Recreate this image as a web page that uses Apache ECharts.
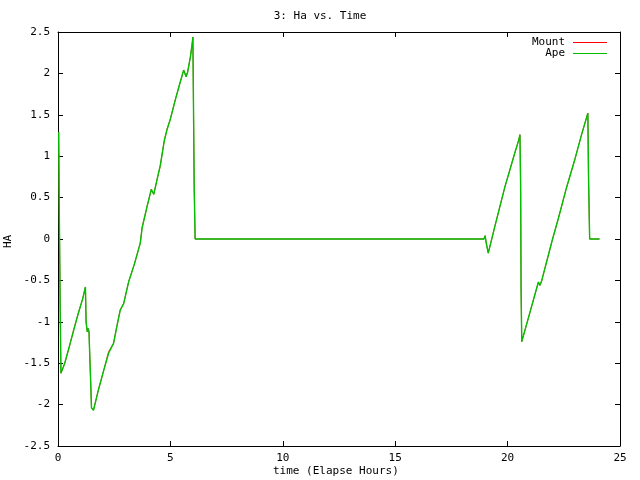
<!DOCTYPE html>
<html>
<head>
<meta charset="utf-8">
<script src="https://cdn.jsdelivr.net/npm/echarts@6/dist/echarts.min.js"></script>
<style>html,body{margin:0;padding:0;background:#fff}#c{width:640px;height:480px}</style>
</head>
<body>
<div id="c"></div>
<script>
var titleText = "3: Ha vs. Time";
var xLabel = "time (Elapse Hours)";
var yLabel = "HA";
var seriesNames = ["Mount", "Ape"];
var seriesColors = ["#ff0000", "#00c000"];
var xTicks = [0, 5, 10, 15, 20, 25];
var yTicks = [-2.5, -2, -1.5, -1, -0.5, 0, 0.5, 1, 1.5, 2, 2.5];

var time = [0.03,0.05,0.10,0.13,0.18,0.30,0.50,0.70,0.90,1.10,1.22,1.25,1.30,1.34,1.38,1.40,1.46,1.49,1.58,1.80,2.00,2.25,2.47,2.60,2.77,2.92,3.14,3.40,3.66,3.74,3.96,4.15,4.26,4.40,4.55,4.63,4.73,4.85,5.00,5.22,5.40,5.59,5.70,5.77,5.89,5.97,6.00,6.02,6.06,6.10,18.95,19.00,19.05,19.14,19.43,19.88,20.30,20.50,20.55,20.58,20.60,20.63,21.00,21.37,21.44,21.52,22.00,22.26,22.60,23.00,23.30,23.57,23.60,23.65,24.09];

var ape = [1.29,0.56,-0.89,-1.62,-1.62,-1.50,-1.30,-1.10,-0.90,-0.72,-0.58,-1.00,-1.12,-1.08,-1.12,-1.30,-1.78,-2.04,-2.07,-1.82,-1.62,-1.38,-1.26,-1.08,-0.86,-0.78,-0.52,-0.30,-0.05,0.13,0.39,0.60,0.54,0.71,0.89,1.02,1.19,1.32,1.45,1.68,1.86,2.04,1.96,2.02,2.20,2.36,2.44,1.82,0.60,0.00,0.00,0.04,-0.05,-0.17,0.15,0.63,1.02,1.20,1.26,0.63,-0.62,-1.24,-0.88,-0.52,-0.56,-0.50,0.00,0.25,0.60,0.97,1.27,1.52,0.75,0.00,0.00];

var mount = [1.29,0.56,-0.89,-1.62,-1.62,-1.50,-1.31,-1.09,-0.90,-0.72,-0.58,-1.00,-1.12,-1.08,-1.12,-1.30,-1.78,-2.04,-2.06,-1.82,-1.62,-1.36,-1.26,-1.08,-0.85,-0.78,-0.52,-0.30,-0.05,0.14,0.39,0.60,0.54,0.71,0.88,1.03,1.19,1.33,1.45,1.69,1.86,2.04,1.96,2.02,2.20,2.36,2.44,1.82,0.60,0.00,0.00,0.04,-0.05,-0.17,0.15,0.63,1.02,1.20,1.26,0.63,-0.62,-1.24,-0.88,-0.52,-0.56,-0.50,0.00,0.25,0.60,0.97,1.27,1.52,0.75,0.00,0.00];

function pairs(xs, ys){ return xs.map(function(x,i){ return [x, ys[i]]; }); }

var FONT = "DejaVu Sans Mono";
var chart = echarts.init(document.getElementById('c'), null, {renderer:'canvas'});

var xCommon = {
  type:'value', min:xTicks[0], max:xTicks[xTicks.length-1], interval:5,
  axisLine:{show:true, onZero:false, lineStyle:{color:'#000', width:1}},
  axisTick:{show:true, inside:true, length:5, lineStyle:{color:'#000'}},
  splitLine:{show:false}
};
var yCommon = {
  type:'value', min:yTicks[0], max:yTicks[yTicks.length-1], interval:0.5,
  axisLine:{show:true, onZero:false, lineStyle:{color:'#000', width:1}},
  axisTick:{show:true, inside:true, length:5, lineStyle:{color:'#000'}},
  splitLine:{show:false}
};

var font11 = '11px "DejaVu Sans Mono"';
var legendGraphics = [];
seriesNames.forEach(function(n, i){
  var yy = 42 + i * 11;
  legendGraphics.push({type:'text', x:565, y:yy, style:{text:n, font:font11, fill:'#000', textAlign:'right', textVerticalAlign:'middle'}});
  legendGraphics.push({type:'line', shape:{x1:573, y1:yy + 0.5, x2:607, y2:yy + 0.5}, style:{stroke:seriesColors[i], lineWidth:1}});
});

chart.setOption({
  animation:false,
  backgroundColor:'#fff',
  textStyle:{fontFamily:FONT},
  title:{
    text:titleText, left:'center', top:6,
    textStyle:{fontFamily:FONT, fontSize:11, fontWeight:'normal', color:'#000'}
  },
  grid:{left:58, right:20, top:32, bottom:34, containLabel:false},
  xAxis:[
    Object.assign({}, xCommon, {position:'bottom',
      axisLabel:{show:true, color:'#000', fontFamily:FONT, fontSize:11, margin:7}}),
    Object.assign({}, xCommon, {position:'top', axisLabel:{show:false}})
  ],
  yAxis:[
    Object.assign({}, yCommon, {position:'left',
      axisLabel:{show:true, color:'#000', fontFamily:FONT, fontSize:11, margin:8}}),
    Object.assign({}, yCommon, {position:'right', axisLabel:{show:false}})
  ],
  graphic:[
    {type:'text', left:273, top:466, style:{text:xLabel, font:font11, fill:'#000'}},
    {type:'text', x:3, y:248, rotation:Math.PI/2, style:{text:yLabel, font:font11, fill:'#000'}}
  ].concat(legendGraphics),
  series:[
    {name:seriesNames[0], type:'line', data:pairs(time, mount), showSymbol:false, symbol:'none',
     lineStyle:{color:seriesColors[0], width:0.8}, itemStyle:{color:seriesColors[0]}, xAxisIndex:0, yAxisIndex:0},
    {name:seriesNames[1], type:'line', data:pairs(time, ape), showSymbol:false, symbol:'none',
     lineStyle:{color:seriesColors[1], width:1.4}, itemStyle:{color:seriesColors[1]}, xAxisIndex:0, yAxisIndex:0}
  ]
});
</script>
</body>
</html>
